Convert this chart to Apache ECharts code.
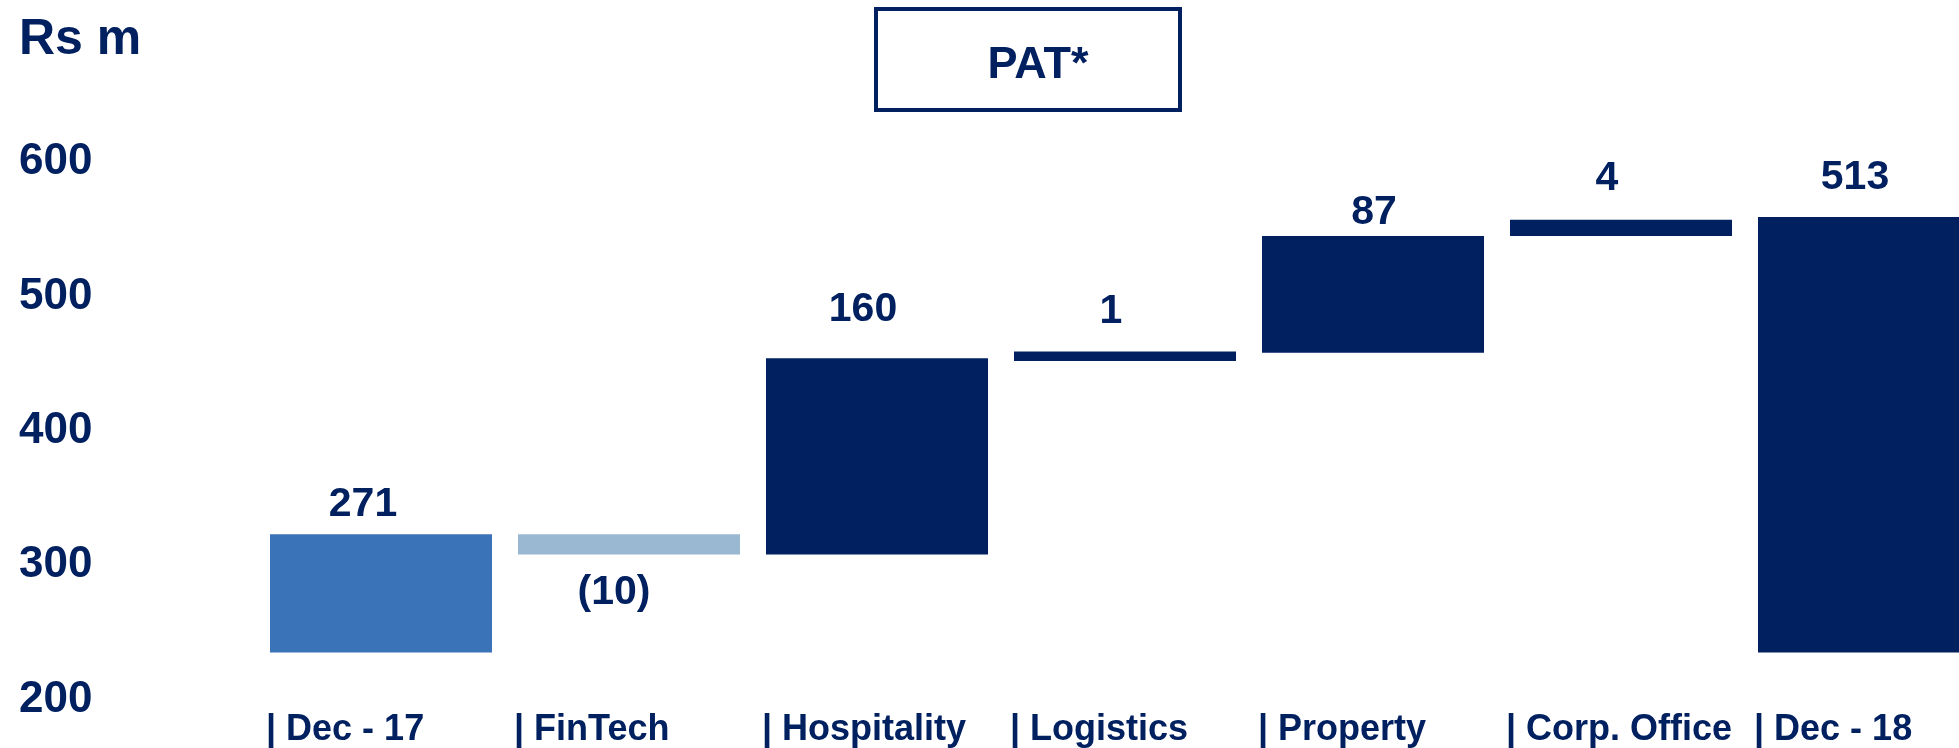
<!DOCTYPE html>
<html>
<head>
<meta charset="utf-8">
<script src="https://cdn.jsdelivr.net/npm/echarts@6/dist/echarts.min.js"></script>
<style>
  html, body { margin: 0; padding: 0; background: #ffffff; }
  #chart { width: 1959px; height: 748px; }
</style>
</head>
<body>
<div id="chart"></div>
<script>
// ---- data ----
const categories = ['| Dec - 17', '| FinTech', '| Hospitality', '| Logistics', '| Property', '| Corp. Office', '| Dec - 18'];
const values = [271, -10, 160, 1, 87, 4, 513];           // printed values (Rs m)
const barBottom = [235, 308, 308, 452, 458, 545, 235];     // bar lower edge, in axis units as drawn
const barTop = [323, 323, 454, 459, 545, 557, 559];        // bar upper edge, in axis units as drawn
const yTicks = [200, 300, 400, 500, 600];
const titleText = 'PAT*';
const unitText = 'Rs m';

// ---- styles ----
const NAVY = '#002060';
const barColors = ['#3B73B9', '#9BB8D3', NAVY, NAVY, NAVY, NAVY, NAVY];
const labelPos = ['top', 'bottom', 'top', 'top', 'top', 'top', 'top'];
const labelDist = [9, 18, 28, 19, 3, 21, 19];
const labelDx = [-18, -15, -14, -14, 1, -14, -14];
const FONT = 'Liberation Sans, Arial, sans-serif';

const chart = echarts.init(document.getElementById('chart'), null, { renderer: 'canvas' });

const baseData = barBottom.map(v => ({ value: v }));
const deltaData = barTop.map((t, i) => ({
  value: t - barBottom[i],
  itemStyle: { color: barColors[i] },
  label: {
    show: true,
    position: labelPos[i],
    distance: labelDist[i],
    offset: [labelDx[i], 0],
    formatter: () => values[i] < 0 ? '(' + Math.abs(values[i]) + ')' : String(values[i]),
    color: NAVY,
    fontFamily: FONT,
    fontWeight: 'bold',
    fontSize: 41
  }
}));

const option = {
  backgroundColor: '#ffffff',
  animation: false,
  title: {
    text: unitText,
    left: 14,
    top: 10,
    textStyle: { color: NAVY, fontFamily: FONT, fontWeight: 'bold', fontSize: 50 }
  },
  graphic: [
    {
      type: 'rect',
      shape: { x: 876, y: 9, width: 304, height: 101 },
      style: { fill: '#ffffff', stroke: NAVY, lineWidth: 4 }
    },
    {
      type: 'text',
      x: 1038,
      y: 66,
      style: {
        text: titleText,
        fill: NAVY,
        font: 'bold 45px ' + FONT,
        align: 'center',
        verticalAlign: 'middle'
      }
    }
  ],
  grid: { left: 257, right: -34, top: 162, bottom: 48.5, containLabel: false, outerBoundsMode: 'none' },
  xAxis: [
    {
      type: 'category',
      data: categories,
      position: 'bottom',
      boundaryGap: true,
      axisLine: { show: false },
      axisTick: { show: false },
      axisLabel: { show: false },
      splitLine: { show: false }
    },
    {
      type: 'category',
      data: categories.concat(['']),
      position: 'bottom',
      boundaryGap: false,
      axisLine: { show: false },
      axisTick: { show: false },
      splitLine: { show: false },
      axisLabel: {
        show: true,
        interval: 0,
        align: 'left',
        verticalAlign: 'top',
        margin: 13,
        padding: [0, 0, 0, 9],
        color: NAVY,
        fontFamily: FONT,
        fontWeight: 'bold',
        fontSize: 36,
        hideOverlap: false
      }
    }
  ],
  yAxis: {
    type: 'value',
    min: yTicks[0],
    max: yTicks[yTicks.length - 1],
    interval: 100,
    axisLine: { show: false },
    axisTick: { show: false },
    splitLine: { show: false },
    axisLabel: {
      align: 'left',
      margin: 238,
      padding: [11, 0, 0, 0],
      color: NAVY,
      fontFamily: FONT,
      fontWeight: 'bold',
      fontSize: 44
    }
  },
  series: [
    {
      name: 'base',
      type: 'bar',
      stack: 'w',
      xAxisIndex: 0,
      barWidth: 222,
      itemStyle: { color: 'rgba(0,0,0,0)' },
      emphasis: { disabled: true },
      silent: true,
      data: baseData
    },
    {
      name: 'change',
      type: 'bar',
      stack: 'w',
      xAxisIndex: 0,
      barWidth: 222,
      data: deltaData
    }
  ]
};

chart.setOption(option);
</script>
</body>
</html>
